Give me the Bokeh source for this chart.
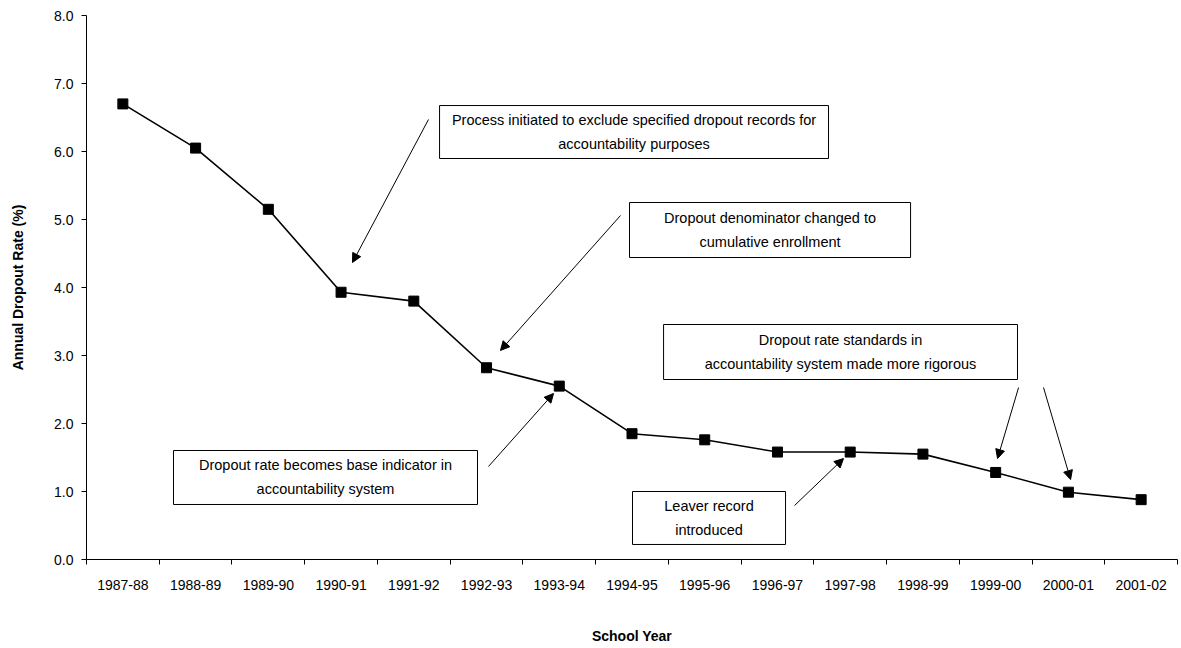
from bokeh.plotting import figure
from bokeh.models import Range1d, FixedTicker, NumeralTickFormatter, Arrow, NormalHead, ColumnDataSource
from bokeh.core.properties import value
from bokeh.embed import file_html
from bokeh.resources import INLINE

# ---- data ----
years = ["1987-88", "1988-89", "1989-90", "1990-91", "1991-92", "1992-93", "1993-94",
         "1994-95", "1995-96", "1996-97", "1997-98", "1998-99", "1999-00", "2000-01", "2001-02"]
rates = [6.70, 6.05, 5.15, 3.93, 3.80, 2.82, 2.55, 1.85, 1.76, 1.58, 1.58, 1.55, 1.28, 0.99, 0.88]
y_ticks = [0, 1, 2, 3, 4, 5, 6, 7, 8]

notes = [
    "Process initiated to exclude specified dropout records for\naccountability purposes",
    "Dropout denominator changed to\ncumulative enrollment",
    "Dropout rate standards in\naccountability system made more rigorous",
    "Dropout rate becomes base indicator in\naccountability system",
    "Leaver record\nintroduced",
]
# box extents in data units: (left, right, bottom, top)
note_left = [4.854, 7.466, 7.934, 1.196, 7.507]
note_right = [10.202, 11.330, 12.800, 5.376, 9.611]
note_bottom = [5.897, 4.441, 2.647, 0.809, 0.221]
note_top = [6.676, 5.250, 3.456, 1.603, 1.000]

# arrows: start -> tip, in data units
arrow_x0 = [4.702, 7.342, 12.815, 13.158, 5.527, 9.735]
arrow_y0 = [6.471, 5.059, 2.529, 2.529, 1.368, 0.794]
arrow_x1 = [3.657, 5.692, 12.526, 13.530, 6.421, 10.408]
arrow_y1 = [4.368, 3.074, 1.485, 1.176, 2.441, 1.485]

FONT = "Liberation Sans"

x_pos = [i + 0.5 for i in range(len(years))]

p = figure(width=1181, height=648, output_backend="svg", toolbar_location=None,
           x_range=Range1d(0, len(years)), y_range=Range1d(0, 8),
           min_border_left=86, min_border_right=4, min_border_top=15, min_border_bottom=89)
p.outline_line_color = None
p.xgrid.visible = False
p.ygrid.visible = False
p.background_fill_color = "white"
p.border_fill_color = "white"

# axes
xa = p.xaxis[0]
xa.ticker = FixedTicker(ticks=x_pos, minor_ticks=list(range(len(years) + 1)))
xa.major_label_overrides = {x: y for x, y in zip(x_pos, years)}
xa.major_tick_out = 0
xa.major_tick_in = 0
xa.minor_tick_out = 5
xa.minor_tick_in = 0
xa.minor_tick_line_color = "black"
xa.major_label_standoff = 15
xa.axis_label = "School Year"
xa.axis_label_standoff = 35
ya = p.yaxis[0]
ya.ticker = FixedTicker(ticks=y_ticks, minor_ticks=[])
ya.formatter = NumeralTickFormatter(format="0.0")
ya.major_tick_out = 5
ya.major_tick_in = 0
ya.minor_tick_out = 0
ya.minor_tick_in = 0
ya.major_label_standoff = 8
ya.axis_label = "Annual Dropout Rate (%)"
ya.axis_label_standoff = 25

for ax in (xa, ya):
    ax.axis_line_color = "black"
    ax.axis_line_width = 1
    ax.major_tick_line_color = "black"
    ax.major_label_text_font = FONT
    ax.major_label_text_font_size = "14px"
    ax.major_label_text_color = "black"
    ax.axis_label_text_font = FONT
    ax.axis_label_text_font_size = "14px"
    ax.axis_label_text_font_style = "bold"
    ax.axis_label_text_color = "black"

# series
src = ColumnDataSource(dict(x=x_pos, y=rates, year=years))
p.line("x", "y", source=src, line_color="black", line_width=1.6)
p.scatter("x", "y", source=src, marker="square", size=10, fill_color="black", line_color="black")

# annotation boxes
box_src = ColumnDataSource(dict(left=note_left, right=note_right, bottom=note_bottom, top=note_top,
                                cx=[(a + b) / 2 for a, b in zip(note_left, note_right)],
                                cy=[(a + b) / 2 for a, b in zip(note_bottom, note_top)],
                                text=notes))
p.quad(left="left", right="right", bottom="bottom", top="top", source=box_src,
       fill_color="white", line_color="black", line_width=1)
p.text(x="cx", y="cy", text="text", source=box_src, text_align="center", text_baseline="middle",
       text_font=value(FONT), text_font_size="14.5px", text_color="black", text_line_height=1.5)

for x0, y0, x1, y1 in zip(arrow_x0, arrow_y0, arrow_x1, arrow_y1):
    p.add_layout(Arrow(x_start=x0, y_start=y0, x_end=x1, y_end=y1, line_color="black", line_width=1,
                       end=NormalHead(size=9, fill_color="black", line_color="black")))

open("out.html", "w").write(file_html(p, INLINE))
